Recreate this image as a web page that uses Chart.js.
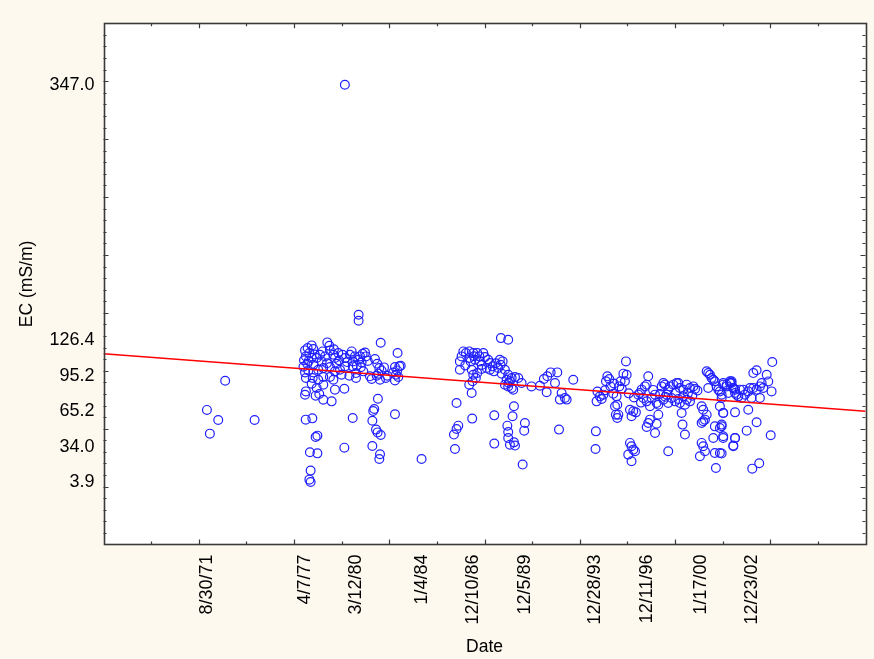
<!DOCTYPE html>
<html>
<head>
<meta charset="utf-8">
<script src="https://cdn.jsdelivr.net/npm/chart.js@4/dist/chart.umd.min.js"></script>
<style>
  html, body { margin: 0; padding: 0; background: #fdf9ef; }
  canvas { display: block; }
</style>
</head>
<body>
<canvas id="chart" width="874" height="659"></canvas>
<script>
// Electrical conductivity samples: [decimal year, EC in mS/m]
const samples1971 = [
  [1971.65, 66.2], [1971.82, 45.7], [1972.30, 57.5], [1972.70, 91.4], [1974.39, 57.5]
];

const samples1977 = [
  [1977.29, 117.6], [1977.44, 119.6], [1977.67, 121.9], [1977.77, 118.7], [1977.54, 115.3],
  [1977.34, 112.4], [1977.23, 109.0], [1977.67, 111.0], [1977.42, 106.1], [1977.77, 105.2],
  [1977.96, 111.0], [1978.15, 113.8], [1978.30, 116.7], [1978.57, 124.5], [1978.69, 121.6],
  [1978.72, 117.6], [1978.44, 112.4], [1978.92, 113.8], [1979.01, 111.0], [1979.20, 115.3],
  [1979.45, 113.8], [1979.59, 111.0], [1979.87, 113.8], [1979.97, 116.7], [1980.16, 112.4],
  [1980.35, 109.5], [1980.45, 112.4], [1980.60, 114.7], [1980.74, 115.8], [1980.79, 112.4],
  [1980.54, 107.2], [1980.26, 104.3], [1980.03, 103.8], [1979.59, 103.8], [1979.30, 100.9],
  [1979.01, 99.5], [1978.72, 103.2], [1978.34, 102.3], [1978.05, 100.9], [1977.77, 98.6],
  [1977.48, 100.3], [1977.29, 98.6], [1977.34, 93.7], [1977.73, 93.7], [1978.05, 92.3],
  [1978.34, 94.6], [1978.72, 94.6], [1978.92, 92.3], [1979.39, 96.6], [1979.84, 95.7],
  [1980.22, 93.7], [1980.22, 98.0], [1980.64, 99.5], [1981.02, 95.2], [1981.12, 92.9],
  [1981.31, 110.1], [1981.44, 106.1], [1981.56, 102.3], [1981.69, 100.3], [1981.83, 102.9],
  [1981.41, 95.7], [1981.60, 92.3], [1981.94, 93.7], [1982.02, 95.7], [1982.46, 103.2],
  [1982.71, 103.8], [1982.59, 100.3], [1982.79, 104.3], [1982.52, 96.6], [1982.46, 91.7],
  [1982.65, 94.6], [1977.96, 85.1], [1977.67, 88.8], [1978.34, 88.0], [1979.01, 83.7],
  [1979.55, 84.5], [1977.29, 79.3], [1977.34, 82.2], [1977.90, 78.5], [1978.11, 79.9],
  [1978.34, 75.0], [1978.82, 73.6],
  [1977.50, 108.5], [1977.85, 114.0], [1978.25, 108.0], [1978.55, 106.5], [1979.10, 106.0],
  [1979.70, 107.5], [1980.05, 108.0], [1980.50, 103.0], [1979.25, 109.0], [1978.95, 118.5],
  [1977.20, 103.5], [1980.90, 108.5], [1981.50, 97.5], [1982.35, 98.5],
  [1980.37, 148.3], [1980.37, 143.2], [1981.64, 124.2], [1982.61, 115.3], [1979.58, 347.0],
  [1981.48, 75.9], [1981.27, 67.0], [1981.21, 65.3], [1982.46, 62.4], [1981.16, 56.9],
  [1981.37, 49.2], [1981.46, 46.8], [1981.64, 44.5], [1977.33, 57.8], [1977.71, 58.9],
  [1980.03, 59.2], [1977.90, 42.8], [1978.00, 44.0], [1979.55, 33.6], [1981.16, 35.1],
  [1981.60, 27.9], [1981.56, 23.8], [1977.57, 29.6], [1978.00, 28.7], [1983.99, 23.8],
  [1977.61, 13.8], [1977.54, 6.0], [1977.61, 3.9]
];

const samples1985 = [
  [1986.39, 116.7], [1986.54, 115.3], [1986.29, 112.4], [1986.19, 108.1], [1986.73, 116.7],
  [1986.96, 115.3], [1987.19, 115.3], [1987.31, 112.4], [1987.54, 115.3], [1987.63, 111.8],
  [1987.34, 108.1], [1987.06, 109.5], [1986.81, 108.1], [1986.73, 111.0], [1987.82, 109.5],
  [1987.92, 106.7], [1988.07, 103.8], [1987.73, 102.4], [1987.92, 100.9], [1988.15, 99.5],
  [1988.40, 102.4], [1988.49, 109.5], [1988.65, 108.1], [1988.53, 105.2], [1988.78, 100.9],
  [1988.97, 96.6], [1989.17, 93.7], [1989.36, 94.6], [1989.55, 93.7], [1989.07, 90.9],
  [1988.88, 92.3], [1988.78, 88.0], [1988.97, 86.5], [1989.17, 85.1], [1989.26, 83.7],
  [1986.19, 100.9], [1986.87, 100.9], [1986.96, 96.6], [1987.11, 93.7], [1987.19, 98.1],
  [1987.44, 101.5], [1986.92, 90.9], [1986.73, 88.0], [1986.87, 80.8], [1989.74, 89.4],
  [1990.31, 86.5], [1990.79, 87.1], [1991.02, 92.9], [1991.22, 95.2], [1991.41, 98.6],
  [1991.79, 98.6], [1991.66, 89.4], [1991.18, 81.4], [1992.04, 80.8], [1992.23, 76.5],
  [1992.33, 75.1], [1991.94, 75.1], [1992.71, 92.3],
  [1987.00, 112.5], [1987.45, 105.0], [1988.25, 106.5], [1988.60, 97.5], [1989.00, 89.5],
  [1986.50, 104.5],
  [1988.55, 128.2], [1988.97, 126.8], [1986.00, 72.2], [1986.90, 58.7], [1988.17, 61.5],
  [1989.30, 69.3], [1989.22, 60.7], [1989.93, 54.9], [1989.89, 48.3], [1988.92, 52.6],
  [1988.97, 47.1], [1988.97, 42.0], [1989.07, 36.2], [1989.30, 38.2], [1989.36, 35.4],
  [1986.10, 52.6], [1986.00, 49.7], [1985.85, 44.9], [1985.91, 32.5], [1988.17, 37.1],
  [1989.80, 19.0], [1991.89, 49.2]
];

const samples1993 = [
  [1995.74, 108.1], [1994.67, 95.2], [1994.78, 92.9], [1994.59, 90.9], [1995.59, 97.5],
  [1995.78, 96.6], [1995.43, 90.9], [1995.68, 90.9], [1995.36, 86.5], [1994.05, 73.6],
  [1994.34, 75.6], [1994.44, 79.4], [1994.53, 83.1], [1994.24, 77.9], [1995.01, 80.2],
  [1995.20, 77.9], [1995.11, 69.3], [1995.24, 70.7], [1995.16, 62.1], [1995.24, 59.2],
  [1995.30, 62.1], [1995.97, 66.4], [1996.06, 60.7], [1996.16, 65.0], [1996.31, 64.1],
  [1996.45, 79.4], [1996.54, 80.8], [1996.64, 83.7], [1996.83, 86.5], [1996.93, 88.0],
  [1997.02, 95.2], [1996.74, 76.5], [1996.93, 73.6], [1997.12, 69.3], [1997.21, 76.5],
  [1997.41, 79.4], [1997.50, 72.2], [1997.60, 70.7], [1997.60, 62.1], [1997.12, 57.8],
  [1997.02, 54.9], [1996.93, 51.5], [1997.41, 46.3], [1997.50, 54.3], [1997.79, 86.5],
  [1997.89, 89.4], [1997.98, 88.0], [1998.17, 83.7], [1998.27, 86.5], [1998.46, 88.0],
  [1998.65, 89.4], [1998.75, 89.4], [1998.84, 85.1], [1999.04, 83.7], [1999.23, 88.0],
  [1999.42, 85.1], [1999.61, 86.5], [1999.71, 84.2], [1998.08, 79.4], [1998.36, 76.5],
  [1998.56, 73.6], [1998.84, 72.2], [1999.04, 77.9], [1999.23, 75.0], [1999.42, 73.6],
  [1997.89, 75.0], [1998.17, 72.2], [1998.75, 75.6], [1998.94, 63.5], [1999.13, 70.7],
  [1998.99, 53.5], [1999.13, 44.9], [2000.09, 69.3], [2000.18, 66.4], [2000.28, 57.8],
  [2000.38, 62.1], [2000.18, 56.4], [2000.09, 54.9], [2000.38, 99.5], [2000.47, 98.0],
  [2000.57, 96.6], [2000.66, 93.7], [2000.76, 92.3], [2000.85, 90.9], [2000.47, 85.1],
  [2000.95, 86.5], [2001.05, 83.7], [2001.14, 82.2], [2001.33, 89.4], [2001.53, 86.5],
  [2001.72, 90.9], [2001.81, 89.4], [2001.91, 85.1], [2002.01, 83.7], [2002.10, 79.4],
  [2001.24, 76.5], [2001.14, 69.3], [2001.33, 63.5], [2001.24, 53.5], [2000.85, 52.0],
  [2001.14, 50.6], [2000.76, 42.0], [2001.33, 42.0], [2002.01, 42.0], [2001.91, 34.8],
  [2000.09, 37.7], [2000.18, 34.8], [2000.28, 30.5], [1999.99, 26.2], [2000.85, 29.0],
  [2001.14, 29.0], [2000.91, 16.1], [1994.01, 47.7], [1993.99, 32.5], [1995.97, 37.7],
  [1996.06, 34.8], [1996.16, 31.9], [1996.26, 30.5], [1995.87, 27.6], [1996.06, 21.9],
  [1998.17, 30.5],
  [1994.10, 82.0], [1994.85, 86.5], [1995.05, 89.0], [1995.50, 84.5], [1995.90, 80.5],
  [1996.20, 77.0], [1996.60, 72.5], [1997.30, 83.5], [1997.70, 80.0], [1998.00, 77.5],
  [1998.60, 81.0], [1999.30, 80.5], [1999.55, 78.5], [1999.85, 83.0],
  [2004.15, 107.5], [2003.25, 100.4], [2003.06, 98.0], [2003.83, 96.6], [2003.92, 90.8],
  [2003.54, 89.4], [2003.44, 86.5], [2003.63, 85.1], [2003.25, 83.7], [2003.06, 85.1],
  [2002.87, 85.1], [2004.11, 82.2], [2003.44, 76.5], [2002.77, 82.2], [2002.48, 83.7],
  [2002.29, 83.7], [2001.91, 85.1], [2001.72, 89.4], [2001.53, 88.0], [2001.33, 88.0],
  [2001.81, 90.9], [2001.24, 79.4], [2001.62, 80.8], [2002.01, 80.8], [2002.20, 77.9],
  [2002.39, 76.5], [2002.58, 79.4], [2002.96, 76.5], [2002.77, 66.4], [2002.01, 64.1],
  [2001.33, 63.5], [2003.25, 55.5], [2002.68, 48.3], [2004.06, 44.3], [2001.24, 52.1],
  [2001.33, 43.4], [2002.01, 42.0], [2001.91, 35.4], [2001.24, 28.5], [2003.00, 15.5],
  [2003.40, 20.1]
];

// Date tick labels on the time axis
const dateTicks = ['1971-08-30', '1977-04-07', '1980-03-12', '1984-01-04', '1986-12-10',
                   '1989-12-05', '1993-12-28', '1996-12-11', '2000-01-17', '2002-12-23'];
// EC tick labels
const ecTicks = [3.9, 34.0, 65.2, 95.2, 126.4, 347.0];
// Axis ranges (day serial / EC)
const dayRange = [24000, 40000];
const ecRange = [-50, 400];
// Linear trend: EC at the start and end of the time axis
const trendEC = [114.7, 65.0];

// Spreadsheet-style day serial (1899-12-30 = 0)
function serialFromISO(s) {
  const [y, m, d] = s.split('-').map(Number);
  return Date.UTC(y, m - 1, d) / 864e5 + 25569;
}
function serialFromYear(yr) {
  return 25569 + (yr - 1970) * 365.25;
}
function shortDate(serial) {
  const dt = new Date(Math.round((serial - 25569) * 864e5));
  const yy = String(dt.getUTCFullYear() % 100).padStart(2, '0');
  return (dt.getUTCMonth() + 1) + '/' + dt.getUTCDate() + '/' + yy;
}

const points = [].concat(samples1971, samples1977, samples1985, samples1993)
  .map(([yr, ec]) => ({ x: serialFromYear(yr), y: ec }));
const trendLine = [
  { x: dayRange[0], y: trendEC[0] },
  { x: dayRange[1], y: trendEC[1] }
];

const TICK_FONT = { family: '"Liberation Sans", Arial, sans-serif', size: 18 };
const TITLE_FONT = { family: '"Liberation Sans", Arial, sans-serif', size: 17.5 };
const PLOT_LEFT = 103.5, PLOT_TOP = 23.3, PLOT_RIGHT = 865.5, PLOT_BOTTOM = 544.5;

// Cream page with white plotting area
const backgroundPlugin = {
  id: 'panelBackground',
  beforeDraw(chart) {
    const { ctx, chartArea: a } = chart;
    ctx.save();
    ctx.fillStyle = '#fdf9ef';
    ctx.fillRect(0, 0, chart.width, chart.height);
    ctx.fillStyle = '#ffffff';
    ctx.fillRect(a.left, a.top, a.right - a.left, a.bottom - a.top);
    ctx.restore();
  }
};

// Box frame with inward tick marks on all four sides
const framePlugin = {
  id: 'boxFrame',
  afterDraw(chart) {
    const { ctx, chartArea: a, scales: { x, y } } = chart;
    ctx.save();
    ctx.strokeStyle = '#3a3a3a';
    ctx.lineWidth = 1.2;
    ctx.beginPath();
    for (let d = dayRange[0] + 1000; d < dayRange[1]; d += 1000) {
      const px = Math.round(x.getPixelForValue(d)) + 0.5;
      const len = (d % 2000 === 0) ? 5 : 3;
      ctx.moveTo(px, a.bottom); ctx.lineTo(px, a.bottom - len);
      ctx.moveTo(px, a.top); ctx.lineTo(px, a.top + len);
    }
    for (let v = ecRange[0] + 10; v < ecRange[1]; v += 10) {
      const py = Math.round(y.getPixelForValue(v)) + 0.5;
      const len = (v % 50 === 0) ? 5 : 3;
      ctx.moveTo(a.left, py); ctx.lineTo(a.left + len, py);
      ctx.moveTo(a.right, py); ctx.lineTo(a.right - len, py);
    }
    ctx.stroke();
    ctx.lineWidth = 1.6;
    ctx.strokeRect(Math.round(a.left) + 0.5, Math.round(a.top) + 0.5,
                   Math.round(a.right - a.left), Math.round(a.bottom - a.top));
    ctx.restore();
  }
};

new Chart(document.getElementById('chart'), {
  type: 'scatter',
  data: {
    datasets: [
      {
        label: 'Trend',
        data: trendLine,
        showLine: true,
        borderColor: '#ff0000',
        borderWidth: 1.4,
        pointRadius: 0,
        fill: false
      },
      {
        label: 'EC',
        data: points,
        pointStyle: 'circle',
        pointRadius: 4.4,
        borderWidth: 1.2,
        borderColor: '#2020ff',
        backgroundColor: 'rgba(0,0,0,0)'
      }
    ]
  },
  options: {
    responsive: false,
    animation: false,
    devicePixelRatio: 1,
    layout: { padding: { top: PLOT_TOP, right: 874 - PLOT_RIGHT, left: 0, bottom: 0 } },
    plugins: { legend: { display: false }, tooltip: { enabled: false } },
    scales: {
      x: {
        type: 'linear',
        min: dayRange[0],
        max: dayRange[1],
        grid: { display: false, drawTicks: false },
        border: { display: false },
        afterBuildTicks: s => { s.ticks = dateTicks.map(t => ({ value: serialFromISO(t) })); },
        afterFit: s => { s.height = 659 - PLOT_BOTTOM; },
        ticks: {
          autoSkip: false,
          minRotation: 90,
          maxRotation: 90,
          padding: 10,
          color: '#000',
          font: TICK_FONT,
          callback: v => shortDate(v)
        },
        title: { display: true, text: 'Date', color: '#000', font: TITLE_FONT, padding: { top: 0, bottom: 1 } }
      },
      y: {
        type: 'linear',
        min: ecRange[0],
        max: ecRange[1],
        grid: { display: false, drawTicks: false },
        border: { display: false },
        afterBuildTicks: s => { s.ticks = ecTicks.map(v => ({ value: v })); },
        afterFit: s => { s.width = PLOT_LEFT; },
        ticks: {
          autoSkip: false,
          padding: 9,
          color: '#000',
          font: TICK_FONT,
          callback: v => Number(v).toFixed(1)
        },
        title: { display: true, text: 'EC (mS/m)', color: '#000', font: TITLE_FONT, padding: { top: 17, bottom: 0 } }
      }
    }
  },
  plugins: [backgroundPlugin, framePlugin]
});
</script>
</body>
</html>
